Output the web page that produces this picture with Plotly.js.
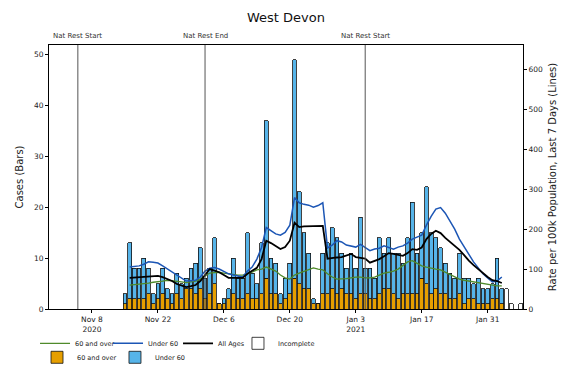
<!DOCTYPE html>
<html>
<head>
<meta charset="utf-8">
<script src="https://cdn.plot.ly/plotly-3.0.1.min.js"></script>
<style>html,body{margin:0;padding:0;background:#fff;}#chart{width:564px;height:366px;}</style>
</head>
<body>
<div id="chart"></div>
<script>
// ---- data ----
const barStart = '2020-11-15';           // first complete bar
const over60Cases = [1,2,2,2,2,3,1,2,3,2,1,3,2,4,4,3,4,2,3,5,1,1,2,3,2,2,3,2,2,3,6,3,3,1,2,3,6,5,4,4,1,1,3,3,4,3,4,3,3,2,3,3,2,2,3,4,4,3,2,3,3,3,3,6,5,3,4,3,3,2,2,3,1,2,2,1,1,1,2,2,1];
const under60Cases = [2,11,6,6,8,5,2,3,5,2,2,4,3,2,4,6,8,4,5,9,0,1,2,7,4,4,12,5,3,10,31,7,6,2,4,6,43,18,11,7,1,0,8,10,12,11,7,5,8,6,15,5,6,4,11,7,10,8,9,6,11,18,8,9,19,12,10,9,6,5,4,8,5,4,3,5,3,3,3,8,3];
const incompleteStart = '2021-02-04';
const incompleteCases = [4,1,0,1];

const lineStart = '2020-11-16';
const rate60 = [60,61,62,64,65,67,68,70,72,71,70,68,66,68,70,75,82,90,91,92,90,88,86,85,85,88,92,98,100,105,100,95,85,78,75,85,90,95,100,103,100,98,88,80,75,75,76,78,80,80,78,78,80,85,90,92,95,100,110,118,121,115,108,105,102,100,98,92,85,80,75,72,70,68,67,65,63,60,58,58];
const rateU60 = [105,106,108,112,118,117,115,108,100,92,85,78,70,71,72,80,95,102,104,100,94,88,85,82,80,95,105,125,154,204,195,188,185,192,210,279,266,262,260,255,259,266,153,160,171,168,160,158,155,162,153,146,150,152,158,154,150,155,158,165,175,180,185,210,232,250,254,240,221,200,175,155,135,118,103,88,78,68,70,80];
const rateAll = [78,79,80,81,82,83,83,80,76,70,63,58,55,57,60,70,85,100,96,92,85,78,78,78,78,88,95,103,125,171,165,158,150,155,171,216,205,207,207,208,208,208,126,128,129,130,134,138,130,128,126,116,120,125,132,140,138,135,133,140,150,148,154,175,188,196,190,178,168,160,148,135,121,110,100,88,80,72,70,65];

const events = [['2020-11-05','Nat Rest Start'],['2020-12-02','Nat Rest End'],['2021-01-05','Nat Rest Start']];
const tickDates = ['2020-11-08','2020-11-22','2020-12-06','2020-12-20','2021-01-03','2021-01-17','2021-01-31'];
const tickLabels = ['Nov 8<br>2020','Nov 22','Dec 6','Dec 20','Jan 3<br>2021','Jan 17','Jan 31'];

function days(start, n) {
  const t0 = Date.parse(start + 'T00:00:00Z');
  const out = [];
  for (let i = 0; i < n; i++) out.push(new Date(t0 + i * 864e5).toISOString().slice(0, 10));
  return out;
}

const barDates = days(barStart, over60Cases.length);
const incDates = days(incompleteStart, incompleteCases.length);
const lineDates = days(lineStart, rateAll.length);
const bw = 0.8 * 864e5;
const edge = {color: '#111', width: 0.8};

const traces = [
  {type:'bar', x: barDates, y: over60Cases, name:'60 and over', width: bw,
   marker:{color:'#E69F00', line: edge}, legend:'legend5', hoverinfo:'skip'},
  {type:'bar', x: barDates, y: under60Cases, name:'Under 60', width: bw,
   marker:{color:'#56B4E9', line: edge}, legend:'legend6', hoverinfo:'skip'},
  {type:'bar', x: incDates, y: incompleteCases, name:'Incomplete', width: bw,
   marker:{color:'#ffffff', line: edge}, legend:'legend4', hoverinfo:'skip'},
  {type:'scatter', mode:'lines', x: lineDates, y: rate60, name:'60 and over', yaxis:'y2',
   line:{color:'#4f8a2b', width:1.3}, legend:'legend'},
  {type:'scatter', mode:'lines', x: lineDates, y: rateU60, name:'Under 60', yaxis:'y2',
   line:{color:'#1c56b5', width:1.5}, legend:'legend2'},
  {type:'scatter', mode:'lines', x: lineDates, y: rateAll, name:'All Ages', yaxis:'y2',
   line:{color:'#000000', width:1.8}, legend:'legend3'}
];

const shapes = events.map(e => ({type:'line', xref:'x', yref:'paper', x0:e[0], x1:e[0], y0:0, y1:1,
  line:{color:'#555', width:1}}));
const annotations = events.map(e => ({xref:'x', yref:'paper', x:e[0], y:1, yanchor:'bottom', yshift:3,
  text:e[1], showarrow:false, font:{size:7, color:'#333'}}));

function leg(x, y) {
  return {orientation:'h', x:x, xanchor:'left', y:y, yanchor:'middle', font:{size:6.5},
    bgcolor:'rgba(0,0,0,0)', borderwidth:0};
}

const layout = {
  width:564, height:366,
  margin:{l:49, r:41, t:45, b:57, autoexpand:false},
  paper_bgcolor:'#fff', plot_bgcolor:'#fff',
  font:{family:'DejaVu Sans, sans-serif', size:8, color:'#222'},
  title:{text:'West Devon', x:0.5, xref:'paper', xanchor:'center', y:0.953, yanchor:'middle', font:{size:13, color:'#111'}},
  barmode:'stack', bargap:0,
  showlegend:true,
  xaxis:{type:'date', range:['2020-10-29 21:00','2021-02-07 12:00'], tickvals:tickDates, ticktext:tickLabels,
    showgrid:false, zeroline:false, showline:true, linecolor:'#000', linewidth:1, mirror:true,
    ticks:'outside', ticklen:3, tickcolor:'#000', tickfont:{size:7.5}},
  yaxis:{range:[0,51.87], tickvals:[0,10,20,30,40,50], showgrid:false, zeroline:false,
    showline:true, linecolor:'#000', linewidth:1, mirror:true, ticks:'outside', ticklen:3, tickcolor:'#000',
    tickfont:{size:7.5}, title:{text:'Cases (Bars)', font:{size:10}, standoff:8}},
  yaxis2:{overlaying:'y', side:'right', range:[0,661], tickvals:[0,100,200,300,400,500,600], showgrid:false,
    zeroline:false, showline:true, linecolor:'#000', linewidth:1, ticks:'outside', ticklen:3, tickcolor:'#000',
    tickfont:{size:7.5}, title:{text:'Rate per 100k Population, Last 7 Days (Lines)', font:{size:10}, standoff:6}},
  legend: leg(-0.0295, -0.13),
  legend2: leg(0.1245, -0.13),
  legend3: leg(0.2722, -0.13),
  legend4: leg(0.3987, -0.13),
  legend5: leg(-0.0253, -0.183),
  legend6: leg(0.1392, -0.183),
  shapes: shapes,
  annotations: annotations
};

Plotly.newPlot('chart', traces, layout, {staticPlot:true, displayModeBar:false});
</script>
</body>
</html>
